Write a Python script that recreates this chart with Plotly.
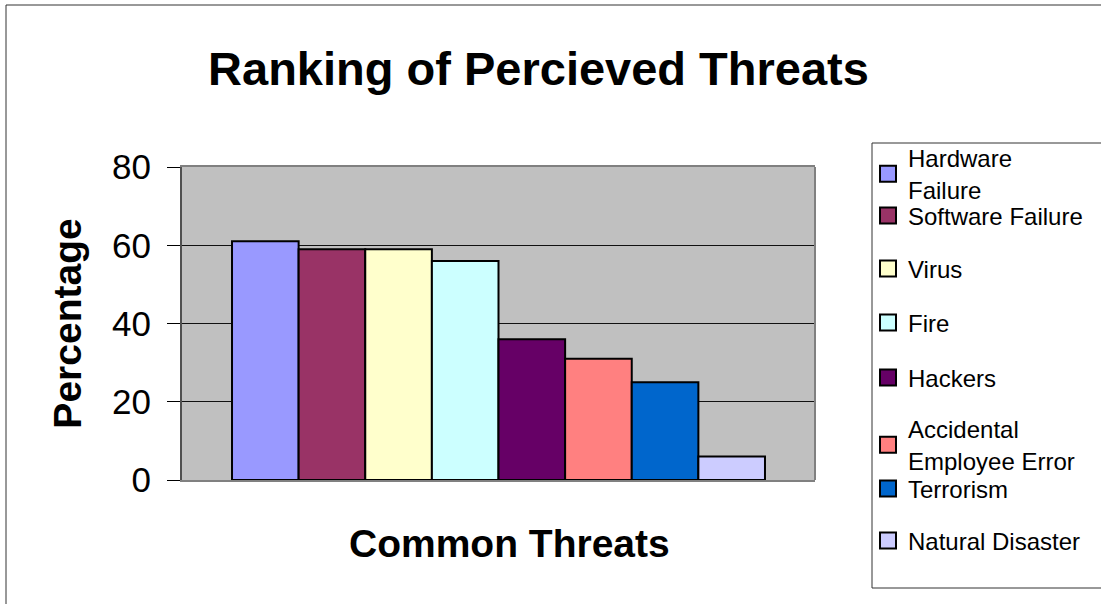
import plotly.graph_objects as go

categories = ["Hardware<br>Failure", "Software Failure", "Virus", "Fire", "Hackers",
              "Accidental<br>Employee Error", "Terrorism", "Natural Disaster"]
values = [61, 59, 59, 56, 36, 31, 25, 6]
colors = ["#9999FF", "#993366", "#FFFFCC", "#CCFFFF", "#660066", "#FF8080", "#0066CC", "#CCCCFF"]
y_ticks = [0, 20, 40, 60, 80]
legend_centers = [174, 216, 269, 323, 378, 445, 489, 541]  # pixel y of each legend entry

W, H = 1101, 604
L, R, T, B = 182, 815, 167, 480
FONT = "Liberation Sans, Arial, sans-serif"

fig = go.Figure()
for i, (name, val, col) in enumerate(zip(categories, values, colors)):
    lg = "legend" if i == 0 else f"legend{i+1}"
    fig.add_trace(go.Bar(
        x=["Threats"], y=[val], name=name,
        marker=dict(color=col, line=dict(color="black", width=2)),
        legend=lg, legendgroup=name, showlegend=False, hoverinfo="name+y",
    ))
    # legend swatch entry for the same series (larger square like the original)
    fig.add_trace(go.Scatter(
        x=["Threats"], y=[None], name=name, mode="markers",
        marker=dict(symbol="square", size=16, color=col, line=dict(color="black", width=2)),
        legend=lg, legendgroup=name, showlegend=True, hoverinfo="skip",
    ))

def px_x(x):
    return (x - L) / (R - L)

def px_y(y):
    return (B - y) / (B - T)

layout_legends = {}
for i, yc in enumerate(legend_centers):
    key = "legend" if i == 0 else f"legend{i+1}"
    layout_legends[key] = dict(
        x=px_x(868), xanchor="left", y=px_y(yc), yanchor="middle",
        xref="paper", yref="paper",
        bgcolor="rgba(0,0,0,0)", borderwidth=0,
        font=dict(family=FONT, size=24, color="black"),
    )

fig.update_layout(
    width=W, height=H,
    margin=dict(l=L, r=W - R, t=T, b=H - B, pad=0),
    paper_bgcolor="white", plot_bgcolor="#C0C0C0",
    barmode="group", bargap=0.158, bargroupgap=0,
    font=dict(family=FONT, color="black"),
    title=dict(text="Ranking of Percieved Threats", x=538.5 / W, xref="container", xanchor="center",
               y=1 - 69 / H, yref="container", yanchor="middle",
               font=dict(family=FONT, size=47, weight="bold", color="black")),
    showlegend=True,
    **layout_legends,
)

fig.update_xaxes(
    type="category",
    showticklabels=False, ticks="", showgrid=False, range=[-0.5, 0.5],
    showline=True, linecolor="#808080", linewidth=2, mirror=True,
)
fig.update_yaxes(
    range=[0, 80], tickvals=y_ticks, ticks="outside", ticklen=13, tickcolor="black", tickwidth=1,
    tickfont=dict(family=FONT, size=35, color="black"), ticklabelstandoff=9,
    showgrid=True, gridcolor="#111111", gridwidth=1,
    showline=True, linecolor="#505050", linewidth=2,
    title=dict(text="Percentage", font=dict(family=FONT, size=39, weight="bold", color="black"), standoff=18),
    zeroline=False,
)

# x-axis title
fig.add_annotation(text="Common Threats", x=px_x(509), y=px_y(543), xref="paper", yref="paper",
                   xanchor="center", yanchor="middle", showarrow=False,
                   font=dict(family=FONT, size=39, weight="bold", color="black"))

# right edge of plot area
fig.add_shape(type="line", xref="paper", yref="paper", x0=1, x1=1, y0=0, y1=1,
              line=dict(color="#808080", width=2), layer="above")
# legend box
fig.add_shape(type="rect", xref="paper", yref="paper", x0=px_x(872), x1=px_x(1130),
              y0=px_y(588), y1=px_y(143), line=dict(color="#333333", width=1), layer="below")
# chart border
fig.add_shape(type="rect", xref="paper", yref="paper", x0=px_x(6), x1=px_x(1140),
              y0=px_y(640), y1=px_y(5), line=dict(color="#333333", width=1), layer="below")

fig.write_html("out.html")
